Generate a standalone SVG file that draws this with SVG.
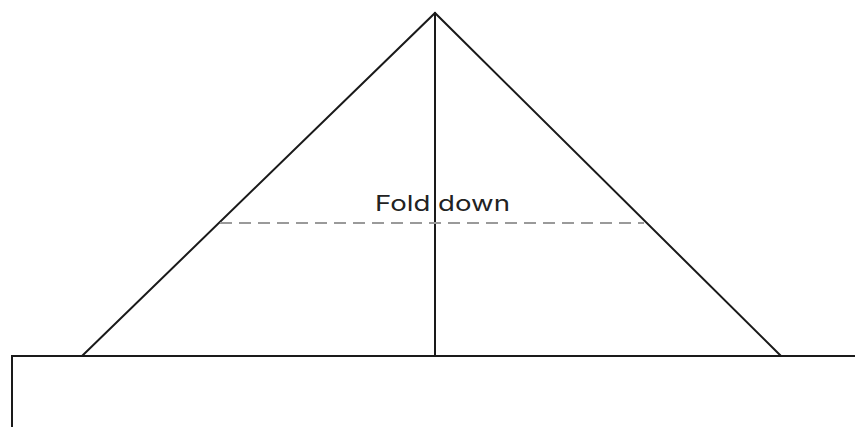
<svg xmlns="http://www.w3.org/2000/svg" width="855" height="427" viewBox="0 0 855 427">
<style>
.ln{stroke:#1a1a1a;stroke-width:2;fill:none;stroke-linecap:round}
.fold{stroke:#9a9a9a;stroke-width:2;stroke-dasharray:12 7;fill:none}
.lbl{font-family:Inter,"Liberation Sans",sans-serif;font-size:22px;fill:#222}
</style>
<rect width="855" height="427" fill="#fff"/>
<g id="base">
<path class="ln" d="M12,427 V356 H855"/>
</g>
<g id="triangle">
<path class="ln" d="M82,356 L435,13 L781,356"/>
<line class="ln" x1="435" y1="13" x2="435" y2="356"/>
</g>
<g id="fold">
<line class="fold" x1="220" y1="223" x2="644" y2="223"/>
<text class="lbl" x="375" y="211" textLength="135" lengthAdjust="spacingAndGlyphs">Fold down</text>
</g>
</svg>
